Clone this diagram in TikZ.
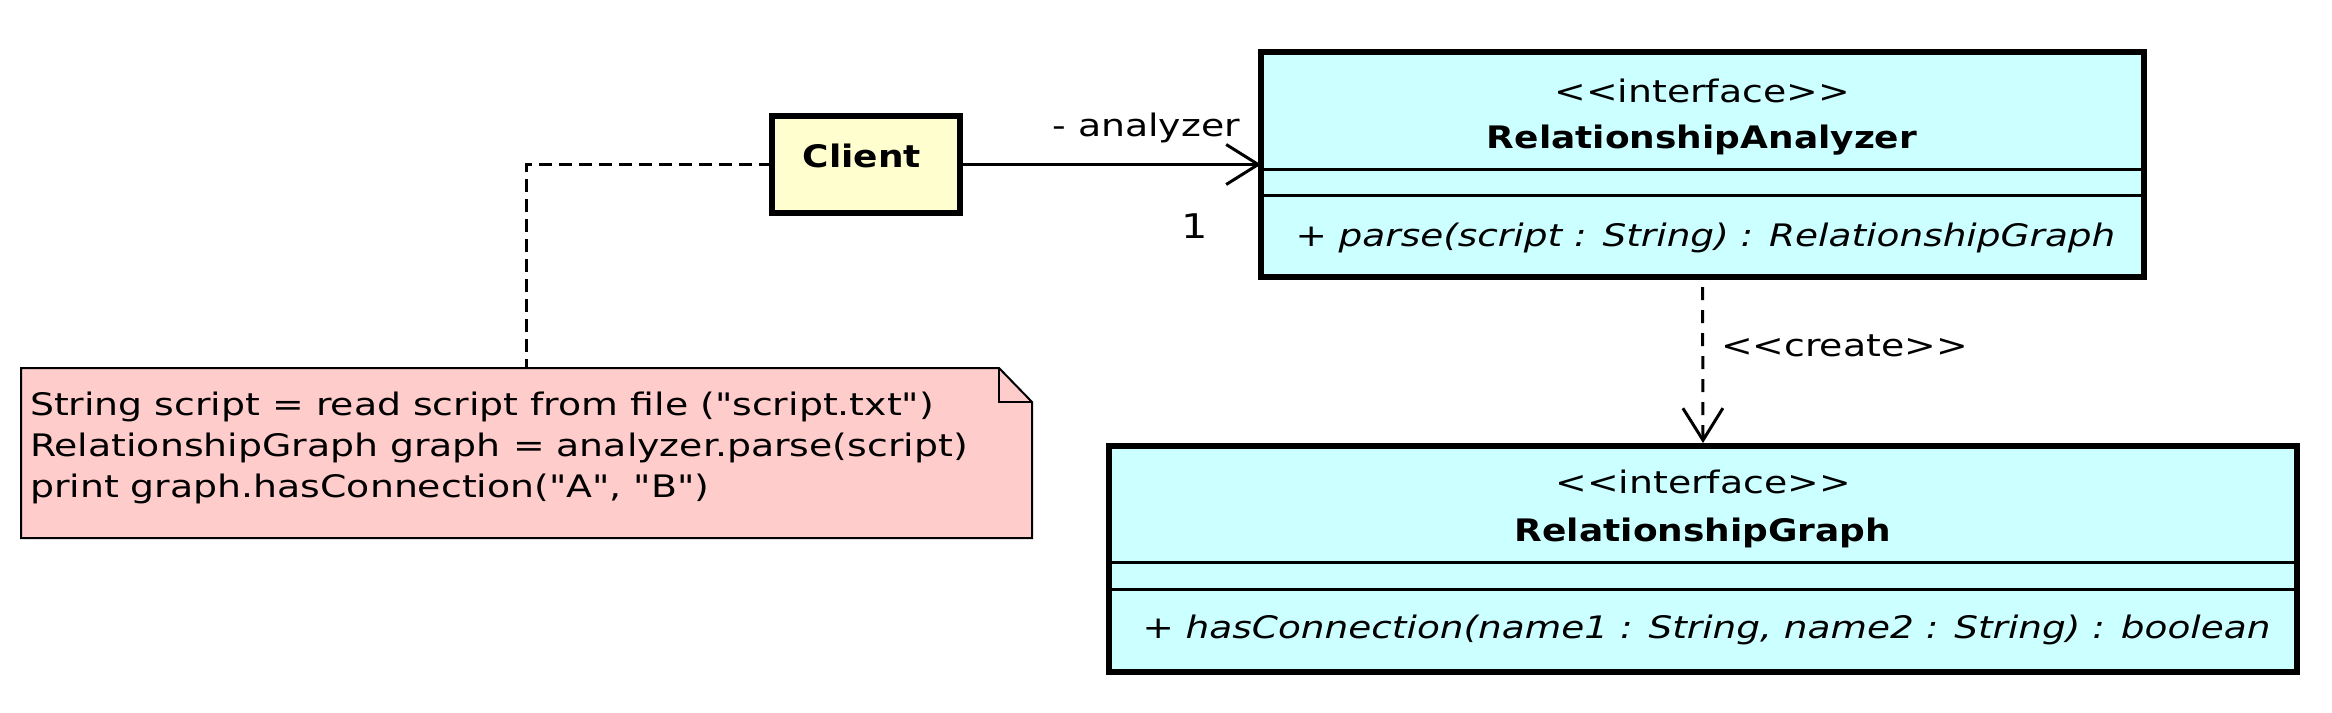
\documentclass[tikz,border=0pt]{standalone}
\usepackage{fontspec}
\setmainfont{DejaVu Sans}[Ligatures=TeXOff,
  UprightFeatures={FakeStretch=1.22},
  BoldFeatures={FakeStretch=1.16},
  ItalicFeatures={FakeStretch=1.207}]
\usetikzlibrary{arrows.meta,calc}
\definecolor{clientfill}{HTML}{FEFECE}
\definecolor{ifill}{HTML}{CCFFFF}
\definecolor{notefill}{HTML}{FFCCCC}
\begin{document}
\begin{tikzpicture}[x=0.5pt,y=-0.5pt,
  every node/.style={inner sep=0pt, outer sep=0pt, font=\fontsize{15.5}{20.5}\selectfont},
  classbox/.style={draw, line width=3pt, rectangle},
  divider/.style={line width=1.5pt},
  opentip/.style={-{Straight Barb[length=16pt,width=20pt,line width=1.5pt]}},
  assoc/.style={line width=1.5pt, opentip},
  dep/.style={line width=1.5pt, dash pattern=on 6.5pt off 5pt, dash phase=6.5pt, opentip},
  notelink/.style={line width=1.2pt, dash pattern=on 6.5pt off 3.5pt},
  noteshape/.style={line width=1pt, fill=notefill},
  bigtxt/.style={font=\fontsize{17}{20}\selectfont}
]
\useasboundingbox (0,0) rectangle (2332,712);
\fill[white] (0,0) rectangle (2332,712);

% note
\node[minimum width=505.5pt, minimum height=85pt] (note) at (526.5,453) {};
\draw[noteshape] (note.north west) -- ($(note.north east)+(-33,0)$) -- ($(note.north east)+(0,34)$) -- (note.south east) -- (note.south west) -- cycle;
\draw[line width=1pt] ($(note.north east)+(-33,0)$) -- ($(note.north east)+(-33,34)$) -- ($(note.north east)+(0,34)$);
\node[anchor=base west] (nl1) at (30,415) {String script = read script from file ("script.txt")};
\node[anchor=base west] (nl2) at (30,456) {RelationshipGraph graph = analyzer.parse(script)};
\node[anchor=base west] (nl3) at (30,497) {print graph.hasConnection("A", "B")};

% Client
\node[classbox, fill=clientfill, minimum width=94pt, minimum height=48.5pt] (client) at (866,164.5) {};
\node[anchor=base] (clientname) at (862,167) {\bfseries Client};

% RelationshipAnalyzer
\node[classbox, fill=ifill, minimum width=441.5pt, minimum height=112.5pt] (ra) at (1702.5,164.5) {};
\draw[divider] ($(ra.north west)+(0,117)$) -- ($(ra.north east)+(0,117)$);
\draw[divider] ($(ra.north west)+(0,143)$) -- ($(ra.north east)+(0,143)$);
\node[anchor=base] (rastereo) at (1702,102) {<<interface>>};
\node[anchor=base] (raname) at (1702,148) {\bfseries RelationshipAnalyzer};
\node[anchor=base west] (ramethod) at (1295.5,246) {\itshape + parse(script : String) : RelationshipGraph};

% RelationshipGraph
\node[classbox, fill=ifill, minimum width=594pt, minimum height=113pt] (rg) at (1703,559) {};
\draw[divider] ($(rg.north west)+(0,116)$) -- ($(rg.north east)+(0,116)$);
\draw[divider] ($(rg.north west)+(0,143)$) -- ($(rg.north east)+(0,143)$);
\node[anchor=base] (rgstereo) at (1703,493) {<<interface>>};
\node[anchor=base] (rgname) at (1703,541) {\bfseries RelationshipGraph};
\node[anchor=base west] (rgmethod) at (1142.5,638) {\itshape + hasConnection(name1 : String, name2 : String) : boolean};

% connectors
\draw[notelink] (client.west) -| (note.north);
\draw[assoc] (client.east) -- (ra.west);
\node[anchor=base east] (lblanalyzer) at (1240,136) {- analyzer};
\node[anchor=base east, bigtxt] (lblone) at (1208,238) {1};
\draw[dep] (ra.south) -- ([yshift=1.5pt]rg.north);
\node[anchor=base west] (lblcreate) at (1721,356) {<<create>>};
\end{tikzpicture}
\end{document}
